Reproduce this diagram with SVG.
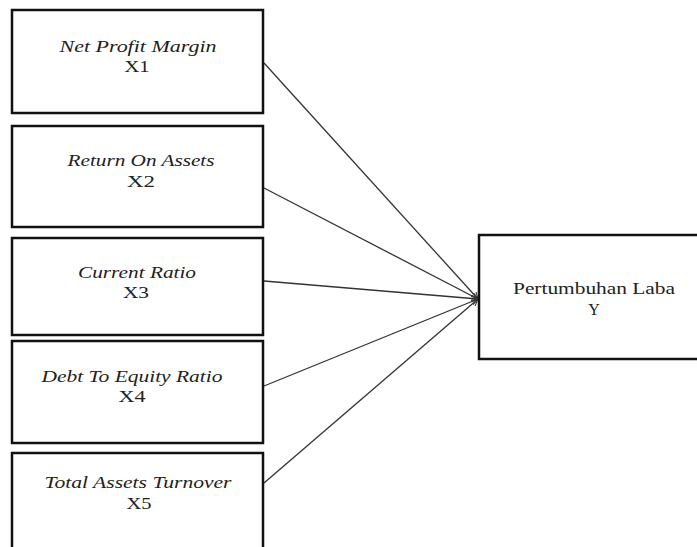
<svg xmlns="http://www.w3.org/2000/svg" width="697" height="547" viewBox="0 0 697 547">
<style>
.box{fill:#fff;stroke:#111;stroke-width:2.5}
.t{font-family:"Liberation Serif","Times New Roman",serif;font-size:16px;fill:#222;text-anchor:middle}
.i{font-style:italic}
.c{stroke:#333;stroke-width:1.3;fill:none;marker-end:url(#ah)}
</style>
<defs>
<marker id="ah" viewBox="0 0 10 10" refX="10" refY="5" markerWidth="7" markerHeight="7" markerUnits="userSpaceOnUse" orient="auto">
<path d="M0,0 L10,5 L0,10" fill="none" stroke="#333" stroke-width="1.5"/>
</marker>
</defs>
<rect width="697" height="547" fill="#fff"/>
<g id="connectors">
<line class="c" x1="264" y1="63" x2="478" y2="299"/>
<line class="c" x1="264" y1="188" x2="478" y2="299"/>
<line class="c" x1="264" y1="281" x2="478" y2="299"/>
<line class="c" x1="264" y1="386" x2="478" y2="299"/>
<line class="c" x1="264" y1="483" x2="478" y2="299"/>
</g>
<g id="x1">
<rect class="box" x="12" y="10" width="251" height="103"/>
<text class="t i" x="138" y="52" textLength="157" lengthAdjust="spacingAndGlyphs">Net Profit Margin</text>
<text class="t" x="137" y="72" textLength="25" lengthAdjust="spacingAndGlyphs">X1</text>
</g>
<g id="x2">
<rect class="box" x="12" y="126" width="251" height="101"/>
<text class="t i" x="141" y="166" textLength="147" lengthAdjust="spacingAndGlyphs">Return On Assets</text>
<text class="t" x="141" y="187" textLength="28" lengthAdjust="spacingAndGlyphs">X2</text>
</g>
<g id="x3">
<rect class="box" x="12" y="238" width="251" height="97"/>
<text class="t i" x="137" y="278" textLength="118" lengthAdjust="spacingAndGlyphs">Current Ratio</text>
<text class="t" x="136" y="298" textLength="26" lengthAdjust="spacingAndGlyphs">X3</text>
</g>
<g id="x4">
<rect class="box" x="12" y="341" width="251" height="102"/>
<text class="t i" x="132" y="382" textLength="181" lengthAdjust="spacingAndGlyphs">Debt To Equity Ratio</text>
<text class="t" x="132" y="402" textLength="27" lengthAdjust="spacingAndGlyphs">X4</text>
</g>
<g id="x5">
<rect class="box" x="12" y="453" width="251" height="110"/>
<text class="t i" x="138" y="488" textLength="187" lengthAdjust="spacingAndGlyphs">Total Assets Turnover</text>
<text class="t" x="139" y="509" textLength="25" lengthAdjust="spacingAndGlyphs">X5</text>
</g>
<g id="y">
<rect class="box" x="479" y="235" width="230" height="124"/>
<text class="t" x="594" y="294" textLength="162" lengthAdjust="spacingAndGlyphs">Pertumbuhan Laba</text>
<text class="t" x="594" y="315">Y</text>
</g>
</svg>
